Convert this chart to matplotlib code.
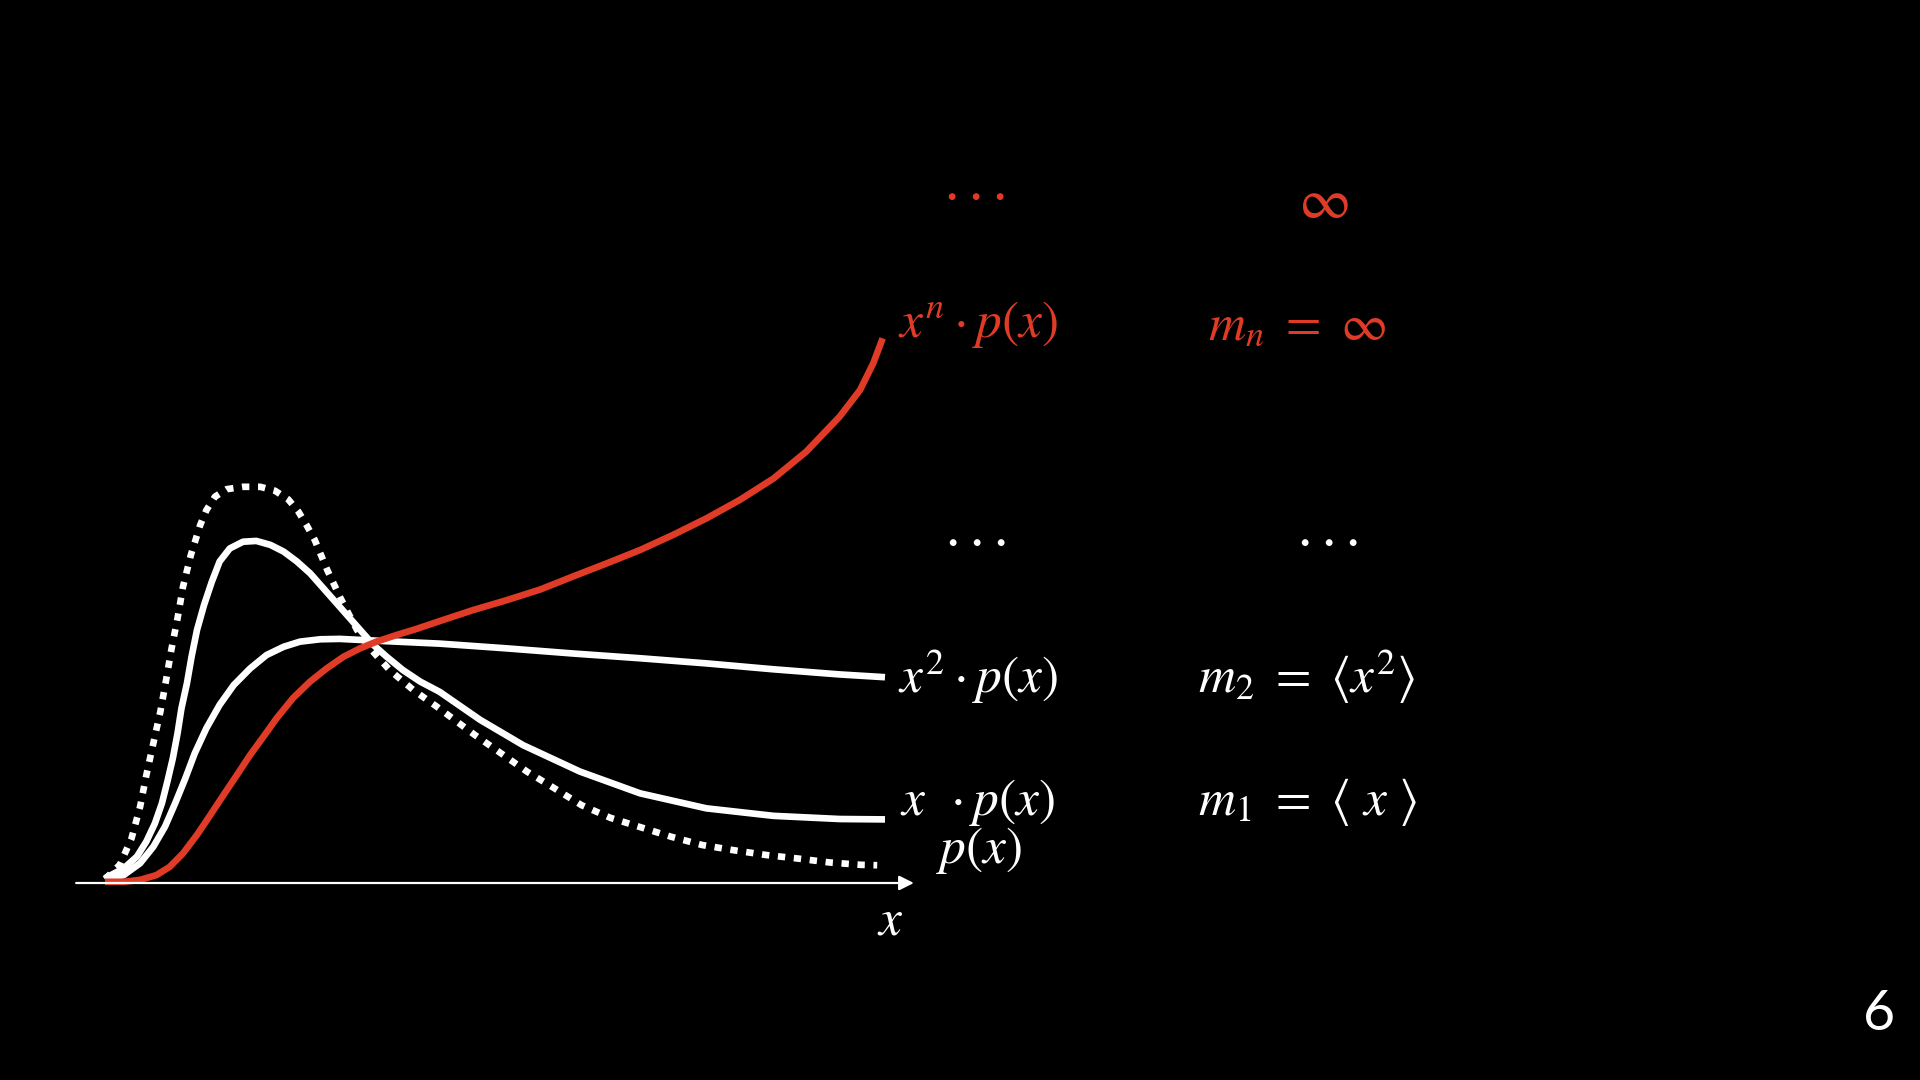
import matplotlib
matplotlib.use("Agg")
import matplotlib.pyplot as plt
import numpy as np

RED = "#DF3B26"
WHITE = "white"

# curves (x in 0..10, y: peak of p(x) = 1)
p_x = [0.0, 0.19, 0.34, 0.45, 0.53, 0.62, 0.71, 0.78, 0.85, 0.93, 1.00, 1.10, 1.22, 1.30,
       1.41, 1.56, 1.77, 1.99, 2.18, 2.35, 2.48, 2.59, 2.69, 2.85, 3.02, 3.23, 3.38, 3.65,
       3.95, 4.25, 4.74, 5.08, 5.41, 5.76, 6.11, 6.48, 6.87, 7.26, 7.66, 8.06, 8.47, 8.88,
       9.29, 9.69, 9.90]
p_y = [0.01, 0.046, 0.113, 0.193, 0.273, 0.354, 0.434, 0.510, 0.590, 0.670, 0.750, 0.830,
       0.906, 0.944, 0.978, 0.997, 1.003, 1.003, 0.993, 0.971, 0.940, 0.904, 0.868, 0.792,
       0.721, 0.641, 0.598, 0.539, 0.489, 0.447, 0.375, 0.328, 0.282, 0.240, 0.197, 0.165,
       0.141, 0.117, 0.096, 0.083, 0.071, 0.062, 0.052, 0.046, 0.045]

xp_x = [0.0, 0.24, 0.41, 0.53, 0.64, 0.73, 0.80, 0.87, 0.93, 0.98, 1.05, 1.11, 1.18, 1.27,
        1.37, 1.47, 1.60, 1.77, 1.94, 2.12, 2.29, 2.46, 2.63, 2.80, 2.97, 3.14, 3.31, 3.44,
        3.61, 3.82, 4.04, 4.29, 4.81, 5.36, 6.09, 6.86, 7.71, 8.57, 9.42, 10.0]
xp_y = [0.012, 0.037, 0.067, 0.105, 0.151, 0.202, 0.257, 0.316, 0.379, 0.442, 0.505, 0.573,
        0.641, 0.704, 0.763, 0.814, 0.847, 0.864, 0.866, 0.856, 0.839, 0.814, 0.784, 0.746,
        0.708, 0.670, 0.632, 0.603, 0.573, 0.539, 0.510, 0.484, 0.413, 0.349, 0.282, 0.227,
        0.189, 0.170, 0.162, 0.161]

x2p_x = [0.0, 0.24, 0.45, 0.62, 0.77, 0.90, 1.03, 1.15, 1.30, 1.47, 1.65, 1.86, 2.07, 2.29,
         2.50, 2.76, 3.01, 3.31, 3.74, 4.29, 5.15, 6.00, 6.86, 7.71, 8.57, 9.42, 10.0]
x2p_y = [0.008, 0.020, 0.050, 0.092, 0.143, 0.202, 0.265, 0.328, 0.392, 0.451, 0.501, 0.543,
         0.577, 0.598, 0.611, 0.617, 0.618, 0.615, 0.611, 0.606, 0.594, 0.581, 0.569, 0.556,
         0.541, 0.528, 0.521]

xnp_x = [0.0, 0.24, 0.45, 0.66, 0.83, 1.00, 1.18, 1.35, 1.52, 1.69, 1.86, 2.03, 2.20, 2.41,
         2.63, 2.84, 3.06, 3.27, 3.48, 3.74, 3.99, 4.29, 4.72, 5.15, 5.58, 6.00, 6.43, 6.86,
         7.28, 7.71, 8.14, 8.57, 8.99, 9.42, 9.68, 9.85, 9.97]
xnp_y = [0.003, 0.003, 0.008, 0.020, 0.041, 0.075, 0.122, 0.172, 0.223, 0.273, 0.324, 0.370,
         0.417, 0.468, 0.510, 0.543, 0.573, 0.594, 0.611, 0.628, 0.643, 0.663, 0.691, 0.716,
         0.743, 0.776, 0.809, 0.843, 0.881, 0.923, 0.970, 1.024, 1.092, 1.181, 1.248, 1.316,
         1.379]

AXIS_START = -0.37
AXIS_END = 10.37

# labels: (text, left px, baseline px, colour)
curve_labels = [
    (r"$x^n \cdot p(x)$", 898, 337, RED),
    (r"$x^2 \cdot p(x)$", 898, 693, WHITE),
    (r"$x\ \,\cdot p(x)$", 900, 815, WHITE),
    (r"$p(x)$", 936, 863, WHITE),
]
moment_labels = [
    (r"$m_n\ =\ \infty$", 1208, 340, RED),
    (r"$m_2\ =\ \langle x^2 \rangle$", 1198, 693, WHITE),
    (r"$m_1\ =\ \langle\ x\ \rangle$", 1198, 815, WHITE),
]
dots = [(974, 196, RED), (975, 542, WHITE), (1327, 542, WHITE)]

plt.rcParams["mathtext.fontset"] = "stix"
plt.rcParams["font.family"] = ["STIXGeneral", "DejaVu Serif"]

W, H = 1920, 1080
fig = plt.figure(figsize=(19.2, 10.8), dpi=100, facecolor="black")
ax = fig.add_axes([0, 0, 1, 1], facecolor="black")
ax.set_xlim((0 - 105) / 78, (W - 105) / 78)
ax.set_ylim((883 - H) / 395, 883 / 395)
ax.axis("off")


def fpos(x, y):
    return x / W, 1 - y / H


# x axis with arrow
ax.annotate("", xy=(AXIS_END, 0), xytext=(AXIS_START, 0),
            arrowprops=dict(arrowstyle="-|>", color=WHITE, lw=1.6, mutation_scale=22,
                            shrinkA=0, shrinkB=0))

ax.plot(p_x, p_y, color=WHITE, lw=4.8, dashes=(1.1, 1.3), dash_capstyle="butt",
        solid_joinstyle="round")
ax.plot(xp_x, xp_y, color=WHITE, lw=4.8, solid_capstyle="butt", solid_joinstyle="round")
ax.plot(x2p_x, x2p_y, color=WHITE, lw=4.8, solid_capstyle="butt", solid_joinstyle="round")
ax.plot(xnp_x, xnp_y, color=RED, lw=4.8, solid_capstyle="butt", solid_joinstyle="round")

FS = 37
for txt, x, y, c in curve_labels + moment_labels:
    fig.text(*fpos(x, y), txt, color=c, fontsize=FS, ha="left", va="baseline")

for x, y, c in dots:
    for k in (-1, 0, 1):
        fig.text(*fpos(x + 24 * k, y), r"$\cdot$", color=c, fontsize=FS + 4,
                 ha="center", va="center")

fig.text(*fpos(1323, 205), r"$\infty$", color=RED, fontsize=FS + 4, ha="center", va="center")
fig.text(*fpos(890, 922), r"$x$", color=WHITE, fontsize=FS, ha="center", va="center")

fig.text(*fpos(1879, 1015), "6", color=WHITE, fontsize=40, family="Lato",
         ha="center", va="center")

fig.savefig("out.png", dpi=100, facecolor="black")
